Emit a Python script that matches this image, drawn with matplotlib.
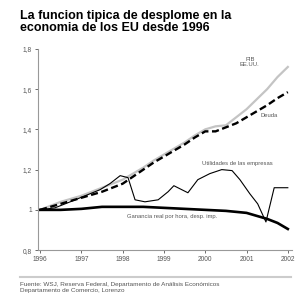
import matplotlib.pyplot as plt
import numpy as np

plt.rcParams['font.family'] = ['Liberation Sans', 'DejaVu Sans']

# quarterly grid for GDP and debt
quarters = np.arange(1996, 2002.01, 0.25)
pib = [1.00, 1.02, 1.04, 1.055, 1.07, 1.09, 1.11, 1.13, 1.15, 1.18, 1.21, 1.245,
       1.275, 1.305, 1.335, 1.37, 1.40, 1.415, 1.42, 1.46, 1.50, 1.55, 1.60, 1.66, 1.71]
deuda = [1.00, 1.015, 1.03, 1.045, 1.06, 1.075, 1.09, 1.11, 1.13, 1.165, 1.20, 1.235,
         1.265, 1.295, 1.325, 1.36, 1.39, 1.39, 1.41, 1.43, 1.46, 1.49, 1.52, 1.555, 1.585]

util_years = [1996.0, 1996.36, 1996.73, 1997.09, 1997.45, 1997.69, 1997.94, 1998.13,
              1998.30, 1998.54, 1998.86, 1999.10, 1999.24, 1999.58, 1999.82, 2000.11,
              2000.40, 2000.65, 2000.84, 2001.08, 2001.27, 2001.47, 2001.67, 2002.0]
utilidades = [1.0, 1.01, 1.04, 1.07, 1.10, 1.13, 1.17, 1.16, 1.05, 1.04, 1.05, 1.09,
              1.12, 1.085, 1.15, 1.18, 1.20, 1.195, 1.15, 1.08, 1.03, 0.94, 1.11, 1.11]

gan_years = [1996.0, 1996.5, 1997.0, 1997.5, 1998.5, 1999.5, 2000.5, 2001.0, 2001.5, 2001.75, 2002.0]
ganancias = [1.0, 1.0, 1.005, 1.015, 1.015, 1.005, 0.995, 0.985, 0.955, 0.935, 0.905]

years = [1996, 1997, 1998, 1999, 2000, 2001, 2002]
yticks = [0.8, 1.0, 1.2, 1.4, 1.6, 1.8]
ylabels = ["0,8", "1", "1,2", "1,4", "1,6", "1,8"]

fig = plt.figure(figsize=(2.97, 2.96), dpi=100)
ax = fig.add_axes([0.128, 0.155, 0.855, 0.68])

ax.plot(quarters, pib, color="#c4c4c4", lw=1.6)
ax.plot(quarters, deuda, color="black", lw=1.7, dashes=(3, 1.5))
ax.plot(util_years, utilidades, color="black", lw=0.8)
ax.plot(gan_years, ganancias, color="black", lw=1.9)

ax.text(2001.08, 1.735, "PIB\nEE.UU.", fontsize=4.2, ha="center", va="center",
        color="#555555", linespacing=1.1)
ax.text(2001.55, 1.47, "Deuda", fontsize=4.2, ha="center", va="center", color="#555555")
ax.text(2000.79, 1.23, "Utilidades de las empresas", fontsize=4.2, ha="center",
        va="center", color="#555555")
ax.text(1999.19, 0.965, "Ganancia real por hora, desp. imp.", fontsize=4.2,
        ha="center", va="center", color="#555555")

ax.set_xlim(1995.95, 2002.1)
ax.set_ylim(0.8, 1.8)
ax.set_xticks(years)
ax.set_xticklabels([str(y) for y in years])
ax.set_yticks(yticks)
ax.set_yticklabels(ylabels)
ax.tick_params(labelsize=4.8, length=2.5, width=0.6, colors="#555555", pad=2)
for s in ["top", "right"]:
    ax.spines[s].set_visible(False)
for s in ["left", "bottom"]:
    ax.spines[s].set_color("#999999")
    ax.spines[s].set_linewidth(0.8)

fig.text(0.067, 0.966, "La funcion tipica de desplome en la\neconomia de los EU desde 1996",
         fontsize=9.0, fontweight="bold", ha="left", va="top", linespacing=1.0)

fig.add_artist(plt.Line2D([0.067, 0.98], [0.064, 0.064], color="#cccccc", lw=1.5,
                          transform=fig.transFigure))
fig.text(0.067, 0.047, "Fuente: WSJ, Reserva Federal, Departamento de Análisis Económicos\n"
         "Departamento de Comercio, Lorenzo", fontsize=4.6, ha="left", va="top",
         color="#555555", linespacing=1.2)

plt.savefig("out.png", dpi=100)
